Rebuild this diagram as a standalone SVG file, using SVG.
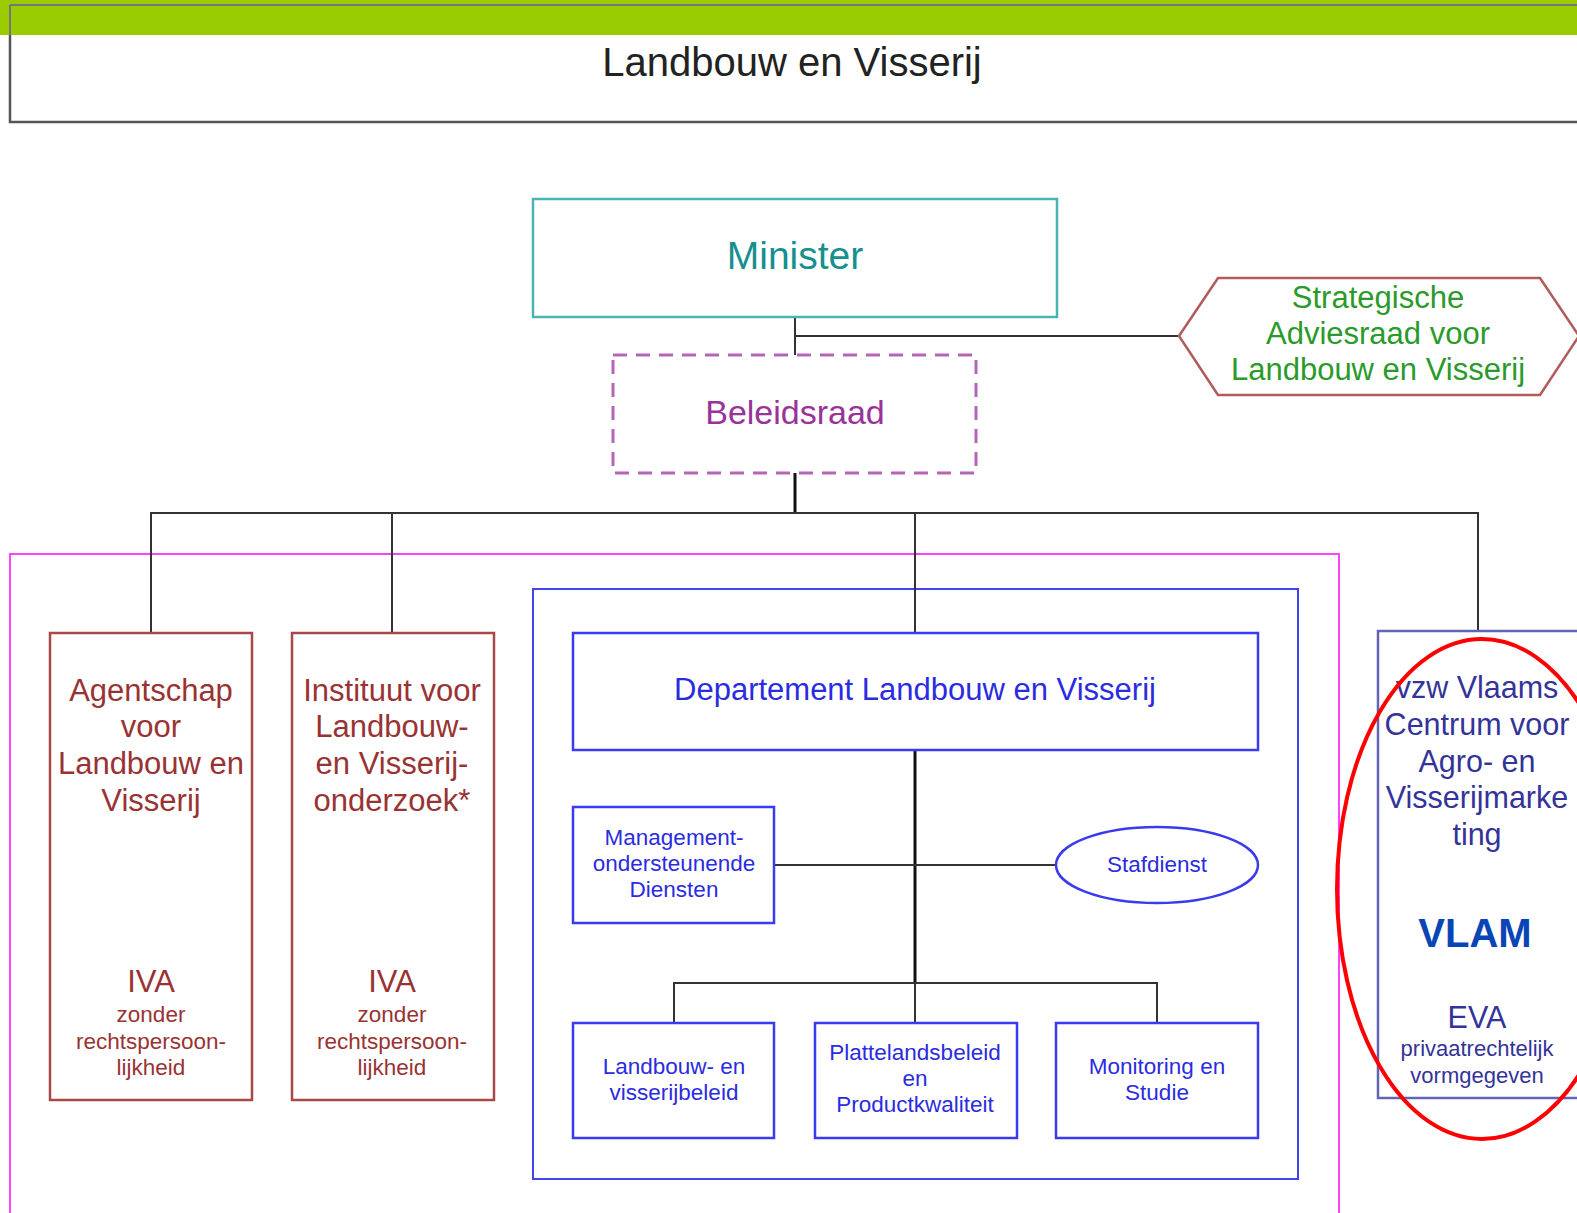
<svg xmlns="http://www.w3.org/2000/svg" width="1577" height="1213" viewBox="0 0 1577 1213">
<style>
text{font-family:"Liberation Sans",Arial,sans-serif;text-anchor:middle}
.red{fill:#993333;font-size:31px}
.redbox{fill:#fff;stroke:#a84848;stroke-width:2.5}
.small{font-size:22.5px}
.blue{fill:#2b2be0;font-size:22.5px}
.bluebox{fill:#fff;stroke:#3a3aee;stroke-width:2.5}
.conn{stroke:#333;stroke-width:2;fill:none}
.thick{stroke:#111;stroke-width:3;fill:none}
.navy{fill:#333399;font-size:30.5px}
</style>
<rect x="0" y="0" width="1577" height="1213" fill="#fff"/>
<g id="title">
<rect x="10" y="5" width="1580" height="117" fill="#fff" stroke="#555" stroke-width="2.5"/>
<rect x="0" y="0" width="1577" height="35" fill="#99cc00"/>
<line x1="10" y1="5" x2="1577" y2="5" stroke="#777" stroke-width="2"/>
<line x1="10" y1="5" x2="10" y2="35" stroke="#777" stroke-width="2"/>
<text x="792" y="76" style="font-size:40px;fill:#222">Landbouw en Visserij</text>
</g>
<g id="frame">
<rect x="10" y="554" width="1329" height="680" fill="none" stroke="#ff44ff" stroke-width="2"/>
<rect x="533" y="589" width="765" height="590" fill="none" stroke="#4444ee" stroke-width="2"/>
</g>
<g id="connectors">
<polyline class="conn" points="795,317 795,355"/>
<polyline class="conn" points="795,336 1179,336"/>
<line class="thick" x1="795" y1="473" x2="795" y2="513"/>
<polyline class="conn" points="151,633 151,513 1478,513 1478,631"/>
<line class="conn" x1="392" y1="513" x2="392" y2="633"/>
<line class="conn" x1="915" y1="513" x2="915" y2="633"/>
<line class="thick" x1="915" y1="750" x2="915" y2="983"/>
<line class="conn" x1="774" y1="865" x2="1056" y2="865"/>
<polyline class="conn" points="674,1023 674,983 1157,983 1157,1023"/>
<line class="conn" x1="915" y1="983" x2="915" y2="1023"/>
</g>
<g id="minister">
<rect x="533" y="199" width="524" height="118" fill="#fff" stroke="#4cb3b3" stroke-width="2.5"/>
<text x="795" y="269" style="font-size:39px;fill:#168f8f">Minister</text>
</g>
<g id="beleidsraad">
<rect x="613" y="355" width="363" height="118" fill="#fff" stroke="#b565b5" stroke-width="3" stroke-dasharray="14,9"/>
<text x="795" y="424" style="font-size:34px;fill:#993399">Beleidsraad</text>
</g>
<g id="strategische">
<polygon points="1179,336 1218,278 1540,278 1579,336 1540,395 1218,395" fill="#fff" stroke="#b35a5a" stroke-width="2.5"/>
<text style="font-size:31px;fill:#2a9a2a"><tspan x="1378" y="308">Strategische</tspan><tspan x="1378" y="344">Adviesraad voor</tspan><tspan x="1378" y="380">Landbouw en Visserij</tspan></text>
</g>
<g id="agentschap">
<rect class="redbox" x="50" y="633" width="202" height="467"/>
<text class="red"><tspan x="151" y="701">Agentschap</tspan><tspan x="151" y="737">voor</tspan><tspan x="151" y="774">Landbouw en</tspan><tspan x="151" y="811">Visserij</tspan></text>
<text class="red" x="151" y="992">IVA</text>
<text class="red small"><tspan x="151" y="1022">zonder</tspan><tspan x="151" y="1049">rechtspersoon-</tspan><tspan x="151" y="1075">lijkheid</tspan></text>
</g>
<g id="instituut">
<rect class="redbox" x="292" y="633" width="202" height="467"/>
<text class="red"><tspan x="392" y="701">Instituut voor</tspan><tspan x="392" y="737">Landbouw-</tspan><tspan x="392" y="774">en Visserij-</tspan><tspan x="392" y="811">onderzoek*</tspan></text>
<text class="red" x="392" y="992">IVA</text>
<text class="red small"><tspan x="392" y="1022">zonder</tspan><tspan x="392" y="1049">rechtspersoon-</tspan><tspan x="392" y="1075">lijkheid</tspan></text>
</g>
<g id="departement">
<rect class="bluebox" x="573" y="633" width="685" height="117"/>
<text x="915" y="700" style="font-size:31px;fill:#2b2be0">Departement Landbouw en Visserij</text>
</g>
<g id="management">
<rect class="bluebox" x="573" y="807" width="201" height="116"/>
<text class="blue"><tspan x="674" y="845">Management-</tspan><tspan x="674" y="871">ondersteunende</tspan><tspan x="674" y="897">Diensten</tspan></text>
</g>
<g id="stafdienst">
<ellipse cx="1157" cy="865" rx="101" ry="38" fill="#fff" stroke="#3a3aee" stroke-width="2.5"/>
<text class="blue" x="1157" y="872">Stafdienst</text>
</g>
<g id="landbouwbeleid">
<rect class="bluebox" x="573" y="1023" width="201" height="115"/>
<text class="blue"><tspan x="674" y="1074">Landbouw- en</tspan><tspan x="674" y="1100">visserijbeleid</tspan></text>
</g>
<g id="platteland">
<rect class="bluebox" x="815" y="1023" width="202" height="115"/>
<text class="blue"><tspan x="915" y="1060">Plattelandsbeleid</tspan><tspan x="915" y="1086">en</tspan><tspan x="915" y="1112">Productkwaliteit</tspan></text>
</g>
<g id="monitoring">
<rect class="bluebox" x="1056" y="1023" width="202" height="115"/>
<text class="blue"><tspan x="1157" y="1074">Monitoring en</tspan><tspan x="1157" y="1100">Studie</tspan></text>
</g>
<g id="vlam">
<rect x="1378" y="631" width="210" height="467" fill="#fff" stroke="#6464b4" stroke-width="2.5"/>
<text class="navy"><tspan x="1477" y="698">vzw Vlaams</tspan><tspan x="1477" y="735">Centrum voor</tspan><tspan x="1477" y="772">Agro- en</tspan><tspan x="1477" y="808">Visserijmarke</tspan><tspan x="1477" y="845">ting</tspan></text>
<text x="1475" y="947" style="font-size:40px;font-weight:bold;fill:#0a45b5">VLAM</text>
<text class="navy" x="1477" y="1028">EVA</text>
<text style="font-size:22px;fill:#333399"><tspan x="1477" y="1056">privaatrechtelijk</tspan><tspan x="1477" y="1083">vormgegeven</tspan></text>
</g>
<g id="highlight">
<ellipse cx="1482" cy="889" rx="145" ry="250" fill="none" stroke="#ff0000" stroke-width="4"/>
</g>
</svg>
